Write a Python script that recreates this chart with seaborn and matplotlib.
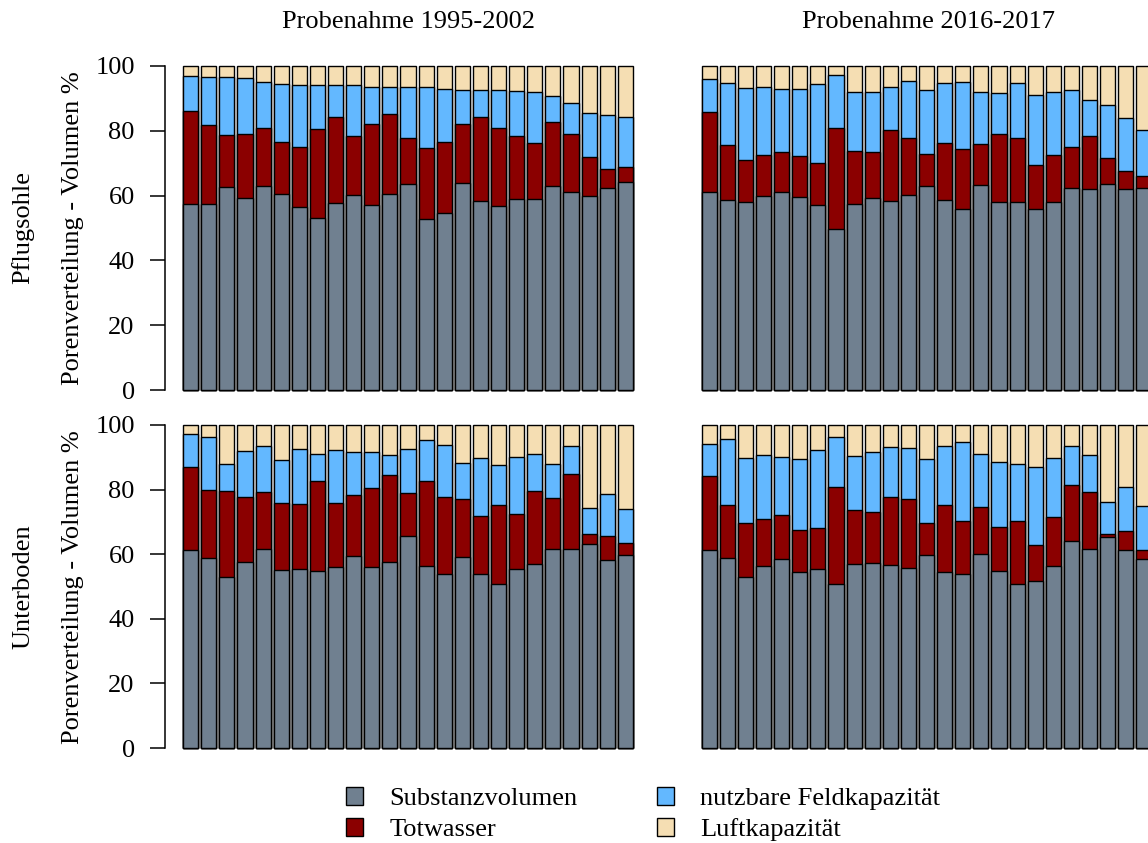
import numpy as np
import pandas as pd
import matplotlib
matplotlib.use("Agg")
import matplotlib.pyplot as plt
from matplotlib.patches import Patch
import seaborn as sns

# Sample numbers (25 soil cores per period)
samples = [str(i) for i in range(1, 26)]

# Pore volume fractions (%) -- Pflugsohle, 1995-2002
pf_old_substanz = [57.4, 57.4, 62.6, 59.2, 63.1, 60.4, 56.5, 53.2, 57.8, 60.2, 57.1, 60.5, 63.5,
                   52.8, 54.5, 63.8, 58.3, 56.8, 58.8, 59.0, 63.1, 61.2, 59.8, 62.2, 64.2]
pf_old_totwasser = [28.7, 24.4, 16.1, 19.8, 17.7, 16.2, 18.6, 27.2, 26.6, 18.3, 25.0, 24.7, 14.4,
                    21.8, 22.1, 18.3, 25.9, 24.2, 19.6, 17.1, 19.7, 17.8, 12.2, 6.1, 4.5]
pf_old_nfk = [10.9, 14.9, 17.8, 17.2, 14.4, 17.7, 19.0, 13.7, 9.7, 15.6, 11.5, 8.2, 15.5,
              18.8, 16.3, 10.6, 8.5, 11.7, 13.9, 15.9, 8.0, 9.5, 13.6, 16.5, 15.6]
pf_old_luft = [3.0, 3.3, 3.5, 3.8, 4.8, 5.7, 5.9, 5.9, 5.9, 5.9, 6.4, 6.6, 6.6,
               6.6, 7.1, 7.3, 7.3, 7.3, 7.7, 8.0, 9.2, 11.5, 14.4, 15.2, 15.7]

# Pflugsohle, 2016-2017
pf_new_substanz = [61.1, 58.7, 58.1, 59.8, 61.2, 59.6, 57.1, 49.6, 57.4, 59.2, 58.4, 60.2, 63.1,
                   58.5, 55.8, 63.3, 58.1, 58.1, 56.0, 58.1, 62.2, 61.9, 63.6, 61.9, 62.4]
pf_new_totwasser = [24.6, 16.8, 12.9, 12.7, 12.1, 12.7, 12.9, 31.4, 16.4, 14.4, 21.8, 17.5, 9.8,
                    17.8, 18.7, 12.5, 20.9, 19.6, 13.4, 14.3, 12.8, 16.6, 7.9, 5.7, 3.6]
pf_new_nfk = [10.3, 19.3, 22.1, 21.1, 19.5, 20.5, 24.4, 16.1, 18.1, 18.5, 13.3, 17.6, 19.6,
              18.4, 20.7, 16.3, 12.7, 17.1, 21.6, 19.7, 17.7, 11.0, 16.6, 16.3, 14.1]
pf_new_luft = [4.0, 5.2, 6.9, 6.4, 7.2, 7.2, 5.6, 2.9, 8.1, 7.9, 6.5, 4.7, 7.5,
               5.3, 4.8, 7.9, 8.3, 5.2, 9.0, 7.9, 7.3, 10.5, 11.9, 16.1, 19.9]

# Unterboden, 1995-2002
ub_old_substanz = [61.3, 58.9, 53.0, 57.5, 61.5, 55.1, 55.4, 54.8, 55.9, 59.5, 56.0, 57.6, 65.6,
                   56.4, 54.0, 59.0, 53.8, 50.7, 55.3, 57.1, 61.7, 61.5, 63.2, 58.2, 59.8]
ub_old_totwasser = [25.8, 21.0, 26.6, 20.1, 17.7, 20.7, 20.1, 27.9, 19.9, 18.7, 24.6, 26.8, 13.3,
                    26.2, 23.6, 18.1, 17.9, 24.6, 17.2, 22.6, 15.7, 23.2, 3.1, 7.3, 3.7]
ub_old_nfk = [10.1, 16.4, 8.2, 14.4, 14.4, 13.4, 16.9, 8.4, 16.4, 13.5, 10.9, 6.4, 13.8,
              12.7, 16.1, 11.2, 18.2, 12.3, 17.7, 11.3, 10.5, 8.7, 8.0, 13.0, 10.6]
ub_old_luft = [2.8, 3.7, 12.2, 8.0, 6.4, 10.8, 7.6, 8.9, 7.8, 8.3, 8.5, 9.2, 7.3,
               4.7, 6.3, 11.7, 10.1, 12.4, 9.8, 9.0, 12.1, 6.6, 25.7, 21.5, 25.9]

# Unterboden, 2016-2017
ub_new_substanz = [61.4, 58.7, 52.9, 56.3, 58.5, 54.4, 55.4, 50.9, 57.1, 57.3, 56.8, 55.8, 59.8,
                   54.4, 54.0, 60.0, 54.7, 50.7, 51.8, 56.4, 64.1, 61.7, 65.2, 61.3, 58.4]
ub_new_totwasser = [22.7, 16.6, 16.7, 14.7, 13.6, 13.1, 12.6, 30.0, 16.6, 15.8, 20.9, 21.4, 9.8,
                    20.7, 16.3, 14.7, 13.6, 19.5, 11.1, 15.2, 17.4, 17.6, 1.1, 6.0, 2.8]
ub_new_nfk = [10.0, 20.3, 20.2, 19.6, 18.1, 22.1, 24.3, 15.4, 16.8, 18.4, 15.4, 15.6, 19.9,
              18.5, 24.5, 16.2, 20.2, 17.7, 24.0, 18.3, 12.1, 11.3, 9.9, 13.6, 13.8]
ub_new_luft = [5.9, 4.4, 10.2, 9.4, 9.8, 10.4, 7.7, 3.7, 9.5, 8.5, 6.9, 7.2, 10.5,
               6.4, 5.2, 9.1, 11.5, 12.1, 13.1, 10.1, 6.4, 9.4, 23.8, 19.1, 25.0]

components = ["Substanzvolumen", "Totwasser", "nutzbare Feldkapazität", "Luftkapazität"]
colors = ["#708090", "#8B0000", "#63B8FF", "#F5DEB3"]

col_titles = ["Probenahme 1995-2002", "Probenahme 2016-2017"]
row_titles = ["Pflugsohle", "Unterboden"]
ylabel = "Porenverteilung - Volumen %"

panels = [
    [(pf_old_substanz, pf_old_totwasser, pf_old_nfk, pf_old_luft),
     (pf_new_substanz, pf_new_totwasser, pf_new_nfk, pf_new_luft)],
    [(ub_old_substanz, ub_old_totwasser, ub_old_nfk, ub_old_luft),
     (ub_new_substanz, ub_new_totwasser, ub_new_nfk, ub_new_luft)],
]

sns.set_style("white")
plt.rcParams["font.family"] = ["Liberation Serif", "DejaVu Serif"]
plt.rcParams["text.color"] = "black"
plt.rcParams["axes.labelcolor"] = "black"
plt.rcParams["xtick.color"] = "black"
plt.rcParams["ytick.color"] = "black"
FS = 19

W, H = 1148, 843
fig = plt.figure(figsize=(W / 100, H / 100), dpi=100)

# panel geometry in pixels: (left, bottom_px_from_top, height)
lefts = [165.0, 683.6]
axw = 489.0
rows = [(403.0, 350.0), (761.0, 349.0)]

for r in range(2):
    for c in range(2):
        bot, hgt = rows[r]
        ax = fig.add_axes([lefts[c] / W, (H - bot) / H, axw / W, hgt / H])
        parts = panels[r][c]
        cum = np.cumsum(np.array(parts, dtype=float), axis=0)
        # stacked bars: draw cumulative totals from the top segment down
        for k in range(3, -1, -1):
            df = pd.DataFrame({"Probe": samples, "Wert": cum[k]})
            sns.barplot(data=df, x="Probe", y="Wert", order=samples, color=colors[k],
                        saturation=1, edgecolor="black", linewidth=1.0, width=0.833,
                        errorbar=None, ax=ax)
        ax.set_xlim(-1.417, 25.583)
        ax.set_ylim(-4, 104)
        ax.set_xlabel("")
        ax.set_ylabel("")
        ax.set_xticks([])
        for s in ["top", "right", "bottom"]:
            ax.spines[s].set_visible(False)
        if c == 0:
            ax.spines["left"].set_bounds(0, 100)
            ax.spines["left"].set_linewidth(1.1)
            ax.spines["left"].set_color("black")
            ax.set_yticks([0, 20, 40, 60, 80, 100])
            ax.tick_params(axis="y", length=10.8, width=1.1, pad=11, labelsize=FS,
                           colors="black", left=True)
        else:
            ax.spines["left"].set_visible(False)
            ax.set_yticks([])

# column titles
fig.text(409 / W, 1 - 22 / H, col_titles[0], ha="center", va="center", fontsize=FS)
fig.text(928 / W, 1 - 22 / H, col_titles[1], ha="center", va="center", fontsize=FS)

# row labels and y-axis labels
for yc, name in zip([228, 587], row_titles):
    fig.text(23 / W, 1 - yc / H, name, rotation=90, ha="center", va="center", fontsize=FS)
    fig.text(73 / W, 1 - yc / H, ylabel, rotation=90, ha="center", va="center", fontsize=FS)

handles = [Patch(facecolor=col, edgecolor="black", linewidth=1.0) for col in colors]
fig.legend(handles, components, ncol=2, loc="center",
           bbox_to_anchor=(643 / W, 1 - 814 / H), frameon=False, fontsize=FS,
           handlelength=0.65, handleheight=0.65, handletextpad=1.0,
           columnspacing=3.0, labelspacing=0.3)

fig.savefig("out.png", dpi=100)
